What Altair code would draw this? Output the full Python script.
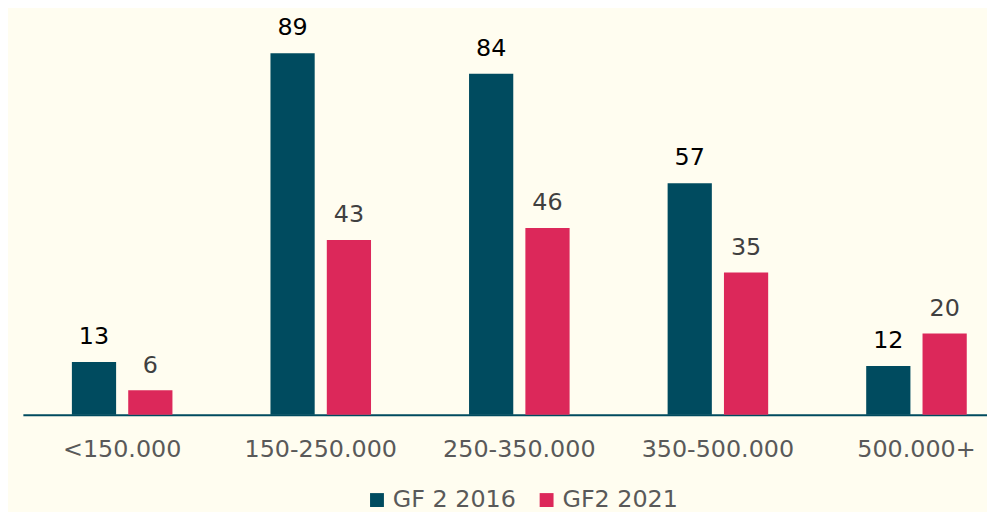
import altair as alt
import pandas as pd

categories = ["<150.000", "150-250.000", "250-350.000", "350-500.000", "500.000+"]
series = ["GF 2 2016", "GF2 2021"]
values_2016 = [13, 89, 84, 57, 12]
values_2021 = [6, 43, 46, 35, 20]

rows = []
for c, a, b in zip(categories, values_2016, values_2021):
    rows.append({"cat": c, "series": series[0], "value": a})
    rows.append({"cat": c, "series": series[1], "value": b})
df = pd.DataFrame(rows)

TEAL = "#004B5F"
RED = "#DC285A"
BG = "#FFFDF0"
FONT = "DejaVu Sans"

W = 972
H = 408

x_enc = alt.X(
    "cat:N",
    sort=categories,
    scale=alt.Scale(range=[0, 1001], paddingInner=0, paddingOuter=0),
    axis=alt.Axis(
        title=None, domainColor=TEAL, domainWidth=2, ticks=False,
        labelFontSize=24, labelColor="#595959", labelFont=FONT,
        labelPadding=23, labelAngle=0, grid=False,
    ),
)
xoff = alt.XOffset("series:N", sort=series,
                   scale=alt.Scale(paddingInner=0.215, paddingOuter=0.87))
y_enc = alt.Y("value:Q", scale=alt.Scale(domain=[0, 99.66]), axis=None)

base = alt.Chart(df).encode(x=x_enc, xOffset=xoff, y=y_enc)

bars = base.mark_bar().encode(
    color=alt.Color(
        "series:N", sort=series,
        scale=alt.Scale(domain=series, range=[TEAL, RED]),
        legend=alt.Legend(
            title=None, orient="none", direction="horizontal",
            legendX=345, legendY=482, symbolType="square", symbolSize=196,
            symbolStrokeWidth=0, labelFontSize=24, labelFont=FONT,
            labelColor="#595959", labelOffset=4, columnPadding=18,
            padding=0,
        ),
    )
)

t1 = base.mark_text(dy=-18, baseline="alphabetic", fontSize=24, font=FONT,
                    color="#000000").encode(text="value:Q").transform_filter(
    alt.datum.series == series[0])
t2 = base.mark_text(dy=-18, baseline="alphabetic", fontSize=24, font=FONT,
                    color="#404040").encode(text="value:Q").transform_filter(
    alt.datum.series == series[1])

chart = alt.layer(bars, t1, t2).properties(
    width=W, height=H,
    padding={"left": 15, "top": 0, "right": 0, "bottom": 96},
    autosize=alt.AutoSizeParams(type="none"),
).configure(background=BG).configure_view(stroke=None)

chart.save("out.html", embed_options={"renderer": "svg", "actions": False})
